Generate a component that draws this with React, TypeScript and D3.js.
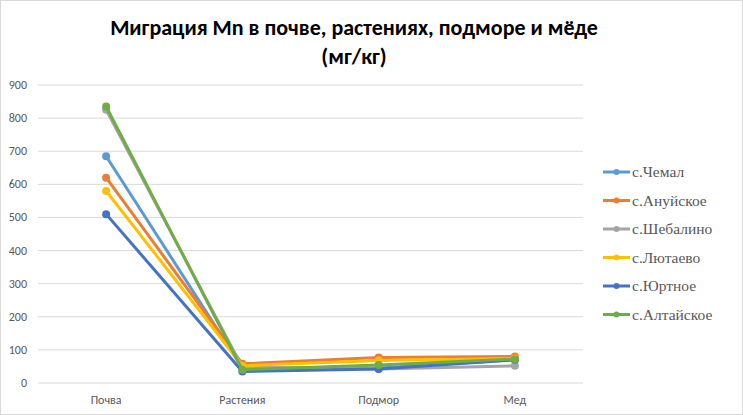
import React from "react";
import * as d3 from "d3";

const categories = ["Почва", "Растения", "Подмор", "Мед"];
const seriesNames = ["с.Чемал", "с.Ануйское", "с.Шебалино", "с.Лютаево", "с.Юртное", "с.Алтайское"];
const chemal = [685, 45, 45, 70];
const anuyskoe = [620, 58, 77, 80];
const shebalino = [825, 48, 42, 52];
const lyutaevo = [580, 52, 68, 74];
const yurtnoe = [510, 35, 42, 70];
const altayskoe = [835, 40, 54, 72];
const seriesValues = [chemal, anuyskoe, shebalino, lyutaevo, yurtnoe, altayskoe];
const colors = ["#5B9BD5", "#ED7D31", "#A5A5A5", "#FFC000", "#4472C4", "#70AD47"];
const yTicks = [0, 100, 200, 300, 400, 500, 600, 700, 800, 900];

export default function App() {
  const W = 743, H = 415;
  const x = d3.scaleBand<string>().domain(categories).range([38, 583]);
  const y = d3.scaleLinear().domain([0, 900]).range([383, 85]);
  const line = d3
    .line<number>()
    .x((_, i) => (x(categories[i]) as number) + x.bandwidth() / 2)
    .y((d) => y(d));
  const font = "Calibri, Carlito, 'Open Sans', Arial, sans-serif";
  return (
    <svg width={W} height={H} style={{ position: "absolute", left: 0, top: 0 }} xmlns="http://www.w3.org/2000/svg">
      <rect x={0} y={0} width={W} height={H} fill="#fff" />
      <rect x={0.5} y={0.5} width={W - 1} height={H - 1} fill="none" stroke="#d9d9d9" />
      <text x={354} y={35} textAnchor="middle" fontFamily={font} fontWeight="bold" fontSize={22} fill="#000">
        Миграция Mn в почве, растениях, подморе и мёде
      </text>
      <text x={354} y={64} textAnchor="middle" fontFamily={font} fontWeight="bold" fontSize={22} fill="#000">
        (мг/кг)
      </text>
      {yTicks.map((t) => (
        <g key={t}>
          <line x1={38} x2={583} y1={y(t)} y2={y(t)} stroke="#d9d9d9" strokeWidth={1} />
          <text x={27} y={y(t) + 4} textAnchor="end" fontFamily={font} fontSize={12} fill="#595959">
            {t}
          </text>
        </g>
      ))}
      {categories.map((c) => (
        <text key={c} x={(x(c) as number) + x.bandwidth() / 2} y={404} textAnchor="middle" fontFamily={font} fontSize={12} fill="#595959">
          {c}
        </text>
      ))}
      {seriesValues.map((vals, si) => (
        <g key={si}>
          <path d={line(vals) as string} fill="none" stroke={colors[si]} strokeWidth={3} strokeLinejoin="round" strokeLinecap="round" />
          {vals.map((v, i) => (
            <circle key={i} cx={(x(categories[i]) as number) + x.bandwidth() / 2} cy={y(v)} r={4} fill={colors[si]} />
          ))}
        </g>
      ))}
      {seriesNames.map((n, i) => {
        const ly = 172 + i * 28.5;
        return (
          <g key={n}>
            <line x1={603} x2={630} y1={ly} y2={ly} stroke={colors[i]} strokeWidth={3} />
            <circle cx={616.5} cy={ly} r={3} fill={colors[i]} />
            <text x={632} y={ly + 5} fontFamily="'Liberation Serif', 'Times New Roman', serif" fontSize={15.5} fill="#595959">
              {n}
            </text>
          </g>
        );
      })}
    </svg>
  );
}
